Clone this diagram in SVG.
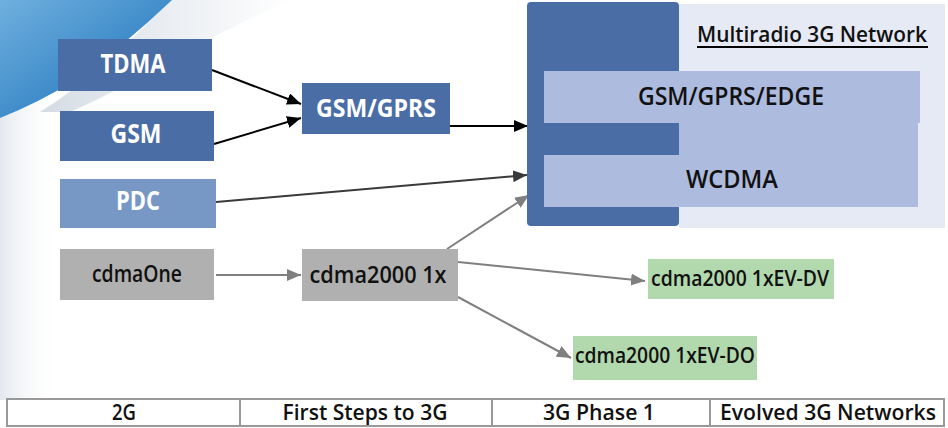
<svg xmlns="http://www.w3.org/2000/svg" width="948" height="428" viewBox="0 0 948 428">
<style>
.lbl{font-family:"Open Sans","Noto Sans","Liberation Sans",sans-serif;font-weight:700;text-anchor:middle}
.w{fill:#ffffff}
.k{fill:#111111;font-weight:600}
.blue{fill:#4a6da6}
.pdc{fill:#7797c4}
.grey{fill:#b0b0b0}
.green{fill:#b2d9ad}
.lav{fill:#adbbde}
.edge{fill:none;stroke-width:2}
.blk{stroke:#000000}
.dk{stroke:#3a3a3a}
.gr{stroke:#7f7f7f}
.cell{fill:#ffffff;stroke:#999999;stroke-width:2}
.tl{font-family:"Open Sans","Noto Sans","Liberation Sans",sans-serif;font-weight:600;font-size:22px;text-anchor:middle;fill:#111111}
</style>
<defs>
<marker id="ab" viewBox="0 0 14 12" refX="14" refY="6" markerWidth="14" markerHeight="12" markerUnits="userSpaceOnUse" orient="auto"><path d="M0,0 L14,6 L0,12 Z" fill="#000000"/></marker>
<marker id="ad" viewBox="0 0 14 12" refX="14" refY="6" markerWidth="14" markerHeight="12" markerUnits="userSpaceOnUse" orient="auto"><path d="M0,0 L14,6 L0,12 Z" fill="#3a3a3a"/></marker>
<marker id="ag" viewBox="0 0 14 12" refX="14" refY="6" markerWidth="14" markerHeight="12" markerUnits="userSpaceOnUse" orient="auto"><path d="M0,0 L14,6 L0,12 Z" fill="#7f7f7f"/></marker>
<linearGradient id="bg1" x1="0" y1="0" x2="1" y2="1"><stop offset="0" stop-color="#6fb0de"/><stop offset="0.6" stop-color="#3a88c8"/><stop offset="1" stop-color="#6aaede"/></linearGradient>
<linearGradient id="bg2" x1="0" y1="0" x2="1" y2="0"><stop offset="0" stop-color="#c2cdd8"/><stop offset="1" stop-color="#ffffff"/></linearGradient>
<linearGradient id="bg3" x1="0" y1="0" x2="1" y2="0"><stop offset="0" stop-color="#e4e8ee"/><stop offset="1" stop-color="#ffffff" stop-opacity="0"/></linearGradient>
</defs>
<rect x="0" y="0" width="948" height="428" fill="#ffffff"/>
<rect x="0" y="0" width="60" height="400" fill="url(#bg3)"/>
<path d="M170,0 L290,0 Q215,35 150,70 Q110,95 70,112 L40,112 Q100,75 170,0 Z" fill="url(#bg2)" opacity="0.7"/>
<path d="M0,0 L172,0 Q125,45 75,80 Q40,102 0,118 Z" fill="url(#bg1)"/>

<g id="connectors">
<line class="edge blk" x1="212" y1="70" x2="301" y2="104" marker-end="url(#ab)"/>
<line class="edge blk" x1="214" y1="144" x2="301" y2="118" marker-end="url(#ab)"/>
<line class="edge blk" x1="450" y1="126" x2="528" y2="126" marker-end="url(#ab)"/>
<line class="edge dk" x1="216" y1="202" x2="527" y2="175" marker-end="url(#ad)"/>
<line class="edge gr" x1="216" y1="275" x2="301" y2="275" marker-end="url(#ag)"/>
<line class="edge gr" x1="447" y1="249" x2="529" y2="195" marker-end="url(#ag)"/>
<line class="edge gr" x1="458" y1="262" x2="645" y2="281" marker-end="url(#ag)"/>
<line class="edge gr" x1="458" y1="297" x2="571" y2="358" marker-end="url(#ag)"/>
</g>

<g id="n3g">
<rect x="679" y="4" width="266" height="224" fill="#e6eaf5"/>
<rect x="527" y="2" width="152" height="224" rx="4" class="blue"/>
<rect x="679" y="71" width="239" height="136" class="lav"/>
<text x="812" y="42" class="lbl k" font-size="21" textLength="230" lengthAdjust="spacingAndGlyphs">Multiradio 3G Network</text>
<line x1="697" y1="47" x2="928" y2="47" stroke="#000000" stroke-width="2"/>
</g>
<g id="ngsmedge">
<rect x="544" y="71" width="376" height="52" class="lav"/>
<text x="731" y="105" class="lbl k" font-size="26" textLength="186" lengthAdjust="spacingAndGlyphs">GSM/GPRS/EDGE</text>
</g>
<g id="nwcdma">
<rect x="544" y="155" width="374" height="52" class="lav"/>
<text x="732" y="188" class="lbl k" font-size="25" textLength="92" lengthAdjust="spacingAndGlyphs">WCDMA</text>
</g>

<g id="ntdma">
<rect x="58" y="39" width="154" height="52" class="blue"/>
<text x="133" y="73" class="lbl w" font-size="26" textLength="65" lengthAdjust="spacingAndGlyphs">TDMA</text>
</g>
<g id="ngsm">
<rect x="60" y="111" width="154" height="50" class="blue"/>
<text x="136" y="143" class="lbl w" font-size="26" textLength="51" lengthAdjust="spacingAndGlyphs">GSM</text>
</g>
<g id="npdc">
<rect x="60" y="179" width="156" height="49" class="pdc"/>
<text x="138" y="210" class="lbl w" font-size="26" textLength="44" lengthAdjust="spacingAndGlyphs">PDC</text>
</g>
<g id="ncdmaone">
<rect x="60" y="249" width="154" height="51" class="grey"/>
<text x="137" y="282" class="lbl k" font-size="23" textLength="90" lengthAdjust="spacingAndGlyphs">cdmaOne</text>
</g>
<g id="ngsmgprs">
<rect x="302" y="83" width="148" height="51" class="blue"/>
<text x="376" y="117" class="lbl w" font-size="25" textLength="120" lengthAdjust="spacingAndGlyphs">GSM/GPRS</text>
</g>
<g id="ncdma1x">
<rect x="302" y="249" width="156" height="52" class="grey"/>
<text x="378" y="283" class="lbl k" font-size="24" textLength="137" lengthAdjust="spacingAndGlyphs">cdma2000 1x</text>
</g>
<g id="nevdv">
<rect x="648" y="259" width="186" height="40" class="green"/>
<text x="740" y="286" class="lbl k" font-size="22" textLength="178" lengthAdjust="spacingAndGlyphs">cdma2000 1xEV-DV</text>
</g>
<g id="nevdo">
<rect x="573" y="336" width="184" height="44" class="green"/>
<text x="665" y="363" class="lbl k" font-size="22" textLength="180" lengthAdjust="spacingAndGlyphs">cdma2000 1xEV-DO</text>
</g>

<g id="timeline">
<rect x="7" y="399" width="233" height="27" class="cell"/>
<rect x="240" y="399" width="252" height="27" class="cell"/>
<rect x="492" y="399" width="218" height="27" class="cell"/>
<rect x="710" y="399" width="234" height="27" class="cell"/>
<text x="124" y="420" class="tl" textLength="24" lengthAdjust="spacingAndGlyphs">2G</text>
<text x="365" y="420" class="tl" textLength="165" lengthAdjust="spacingAndGlyphs">First Steps to 3G</text>
<text x="599" y="420" class="tl" textLength="112" lengthAdjust="spacingAndGlyphs">3G Phase 1</text>
<text x="828" y="420" class="tl" textLength="216" lengthAdjust="spacingAndGlyphs">Evolved 3G Networks</text>
</g>
</svg>
